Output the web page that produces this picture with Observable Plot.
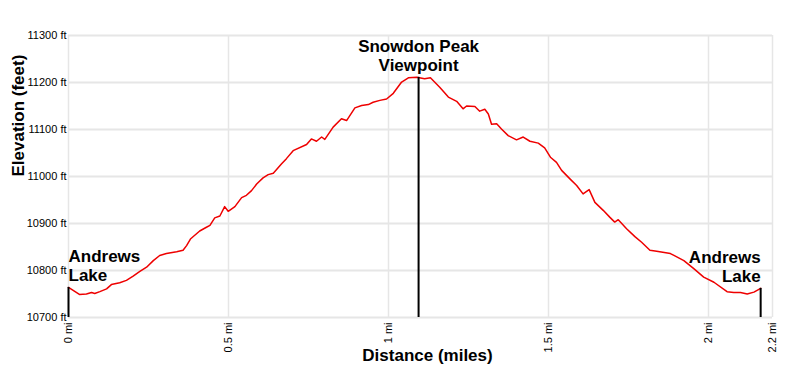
<!DOCTYPE html>
<html>
<head>
<meta charset="utf-8">
<script src="https://cdn.jsdelivr.net/npm/d3@7"></script>
<script src="https://cdn.jsdelivr.net/npm/@observablehq/plot@0.6"></script>
<style>
  body { margin: 0; background: #fff; }
</style>
</head>
<body>
<div id="chart"></div>
<script>
// Elevation profile (distance in miles, elevation in feet)
const distance = [0.000, 0.034, 0.056, 0.072, 0.082, 0.098, 0.119, 0.134, 0.160, 0.181, 0.202, 0.223, 0.244, 0.265, 0.285, 0.306, 0.338, 0.358, 0.369, 0.381,
  0.410, 0.431, 0.442, 0.457, 0.473, 0.488, 0.499, 0.520, 0.541, 0.556, 0.572, 0.588, 0.608, 0.624, 0.640, 0.666, 0.681, 0.702,
  0.744, 0.759, 0.775, 0.791, 0.801, 0.827, 0.853, 0.869, 0.895, 0.916, 0.937, 0.952, 0.973, 0.994, 1.015, 1.041, 1.062, 1.088, 1.113, 1.131,
  1.160, 1.187, 1.213, 1.233, 1.244, 1.270, 1.285, 1.301, 1.312, 1.322, 1.338, 1.353, 1.374, 1.400, 1.421, 1.442, 1.468, 1.488, 1.506,
  1.525, 1.541, 1.567, 1.588, 1.608, 1.627, 1.645, 1.671, 1.692, 1.707, 1.718, 1.744, 1.770, 1.791, 1.817, 1.838, 1.881,
  1.892, 1.923, 1.954, 1.985, 2.017, 2.058, 2.079, 2.100, 2.121, 2.142, 2.163];
const elevation = [10764, 10749, 10750, 10753, 10751, 10755, 10761, 10770, 10774, 10779, 10788, 10798, 10807, 10821, 10832, 10836, 10840, 10843, 10853, 10867,
  10884, 10892, 10896, 10912, 10916, 10936, 10926, 10936, 10955, 10960, 10970, 10984, 10997, 11004, 11007, 11027, 11038, 11055,
  11068, 11080, 11075, 11084, 11079, 11105, 11123, 11119, 11146, 11151, 11153, 11158, 11162, 11165, 11177, 11201, 11210, 11211, 11208, 11210,
  11190, 11169, 11160, 11144, 11150, 11149, 11139, 11143, 11133, 11111, 11112, 11101, 11087, 11078, 11084, 11075, 11071, 11061, 11041,
  11030, 11013, 10995, 10981, 10963, 10972, 10945, 10928, 10913, 10903, 10908, 10889, 10872, 10860, 10843, 10841, 10836,
  10832, 10821, 10804, 10786, 10775, 10755, 10753, 10753, 10750, 10754, 10762];

const xTicks = [0, 0.5, 1, 1.5, 2, 2.2];
const xTickLabels = ["0 mi", "0.5 mi", "1 mi", "1.5 mi", "2 mi", "2.2 mi"];
const yTicks = [10700, 10800, 10900, 11000, 11100, 11200, 11300];
const yTickLabels = ["10700 ft", "10800 ft", "10900 ft", "11000 ft", "11100 ft", "11200 ft", "11300 ft"];

const markerNames = ["Andrews\nLake", "Snowdon Peak\nViewpoint", "Andrews\nLake"];
const markerDistance = [0, 1.094, 2.163];
const markerElevation = [10764, 11211, 10762];

const xTitle = "Distance (miles)";
const yTitle = "Elevation (feet)";

const profile = distance.map((d, i) => ({d, e: elevation[i]}));
const markers = markerNames.map((n, i) => ({n, d: markerDistance[i], e: markerElevation[i]}));
const anchors = ["start", "middle", "end"];

const gridColor = "#e6e6e6";
const font = "'Liberation Sans', Arial, sans-serif";

const chart = Plot.plot({
  width: 800,
  height: 376,
  marginLeft: 68,
  marginRight: 28,
  marginTop: 35,
  marginBottom: 59,
  style: {fontFamily: font, fontSize: "11px", color: "#000", background: "#fff", overflow: "visible"},
  x: {domain: [0, 2.2], axis: null},
  y: {domain: [10700, 11300], axis: null},
  marks: [
    Plot.ruleY(yTicks, {stroke: gridColor, strokeWidth: 2}),
    Plot.ruleX(xTicks, {stroke: gridColor, strokeWidth: 1.5}),
    Plot.axisX({
      ticks: xTicks,
      tickFormat: d => xTickLabels[xTicks.indexOf(d)],
      tickRotate: -90, tickSize: 0, tickPadding: 5,
      fontSize: 11, fill: "#000", label: null
    }),
    Plot.axisY({
      ticks: yTicks,
      tickFormat: d => yTickLabels[yTicks.indexOf(d)],
      tickSize: 0, tickPadding: 2,
      fontSize: 11, fill: "#000", label: null
    }),
    Plot.line(profile, {x: "d", y: "e", stroke: "#ee0000", strokeWidth: 1.5}),
    Plot.ruleX(markers, {x: "d", y1: () => 10700, y2: "e", stroke: "#000", strokeWidth: 2}),
    ...anchors.map((a, i) => Plot.text(markers, {
      filter: (m, j) => j === i,
      x: "d", y: "e", text: "n",
      textAnchor: a, lineAnchor: "bottom", lineHeight: 1.15,
      dy: -6, fontWeight: "bold", fontSize: 17, fill: "#000"
    })),
    Plot.text([xTitle], {frameAnchor: "bottom", text: d => d, dy: 38, dx: 7, lineAnchor: "middle", fontWeight: "bold", fontSize: 17, fill: "#000"}),
    Plot.text([yTitle], {frameAnchor: "left", text: d => d, rotate: -90, dx: -50, lineAnchor: "middle", fontWeight: "bold", fontSize: 17, fill: "#000"})
  ]
});
document.getElementById("chart").appendChild(chart);
</script>
</body>
</html>
